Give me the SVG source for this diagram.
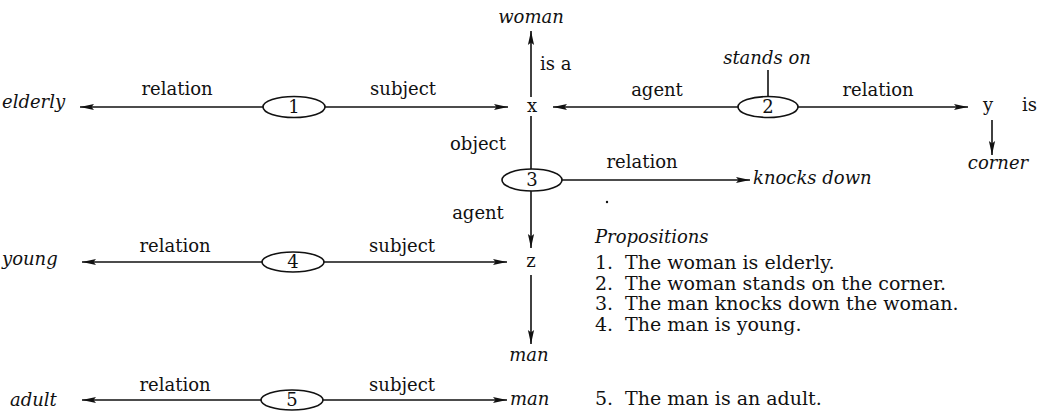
<svg xmlns="http://www.w3.org/2000/svg" width="1043" height="418" viewBox="0 0 1043 418">
  <style>
    text { font-family: "DejaVu Serif", "Liberation Serif", serif; font-size: 18px; fill: #111; }
    .it { font-style: italic; }
    .mid { text-anchor: middle; }
    .line { font-size: 19px; }
    .edge { stroke: #111; stroke-width: 1.6; fill: none; }
    .prop { fill: #fff; stroke: #111; stroke-width: 1.6; }
  </style>
  <defs>
    <marker id="arrow" viewBox="0 0 14 8" markerWidth="14" markerHeight="8" refX="14" refY="4" orient="auto" markerUnits="userSpaceOnUse">
      <path d="M0,0.9 L14,4 L0,7.1 L2.5,4 z" fill="#111"/>
    </marker>
  </defs>
  <rect width="1043" height="418" fill="#fff"/>

  <!-- connectors -->
  <g id="connectors">
    <!-- proposition 1 -->
    <line class="edge" x1="263" y1="107" x2="80" y2="107" marker-end="url(#arrow)"/>
    <line class="edge" x1="325" y1="107" x2="508" y2="107" marker-end="url(#arrow)"/>
    <!-- proposition 2 -->
    <line class="edge" x1="738" y1="107" x2="553" y2="107" marker-end="url(#arrow)"/>
    <line class="edge" x1="798" y1="107" x2="968" y2="107" marker-end="url(#arrow)"/>
    <line class="edge" x1="768" y1="70" x2="768" y2="96.5"/>
    <line class="edge" x1="992" y1="120" x2="992" y2="155" marker-end="url(#arrow)"/>
    <!-- x is a woman -->
    <line class="edge" x1="531" y1="97" x2="531" y2="31" marker-end="url(#arrow)"/>
    <!-- proposition 3 -->
    <line class="edge" x1="531" y1="116" x2="531" y2="169"/>
    <line class="edge" x1="562" y1="180" x2="750" y2="180" marker-end="url(#arrow)"/>
    <line class="edge" x1="531" y1="191" x2="531" y2="248" marker-end="url(#arrow)"/>
    <!-- z is a man -->
    <line class="edge" x1="531" y1="275" x2="531" y2="344" marker-end="url(#arrow)"/>
    <!-- proposition 4 -->
    <line class="edge" x1="262" y1="262" x2="82" y2="262" marker-end="url(#arrow)"/>
    <line class="edge" x1="324" y1="262" x2="507" y2="262" marker-end="url(#arrow)"/>
    <!-- proposition 5 -->
    <line class="edge" x1="261" y1="400" x2="82" y2="400" marker-end="url(#arrow)"/>
    <line class="edge" x1="323" y1="400" x2="507" y2="400" marker-end="url(#arrow)"/>

    <!-- link labels -->
    <text class="mid" x="177" y="95">relation</text>
    <text class="mid" x="403" y="95">subject</text>
    <text class="mid" x="657" y="96">agent</text>
    <text class="mid" x="878" y="96">relation</text>
    <text x="540" y="70">is a</text>
    <text class="mid" x="478" y="150">object</text>
    <text class="mid" x="642" y="168">relation</text>
    <text class="mid" x="478" y="219">agent</text>
    <text class="mid" x="175" y="252">relation</text>
    <text class="mid" x="402" y="252">subject</text>
    <text class="mid" x="175" y="391">relation</text>
    <text class="mid" x="402" y="391">subject</text>
  </g>

  <!-- proposition nodes -->
  <g id="p1">
    <ellipse class="prop" cx="294" cy="107" rx="31" ry="10.5"/>
    <text class="mid" x="294" y="113">1</text>
  </g>
  <g id="p2">
    <ellipse class="prop" cx="768" cy="107" rx="30" ry="10.5"/>
    <text class="mid" x="768" y="113">2</text>
  </g>
  <g id="p3">
    <ellipse class="prop" cx="532" cy="180" rx="30" ry="11"/>
    <text class="mid" x="532" y="186">3</text>
  </g>
  <g id="p4">
    <ellipse class="prop" cx="293" cy="262" rx="31" ry="10"/>
    <text class="mid" x="293" y="268">4</text>
  </g>
  <g id="p5">
    <ellipse class="prop" cx="292" cy="400" rx="31" ry="10"/>
    <text class="mid" x="292" y="406">5</text>
  </g>

  <!-- argument nodes -->
  <g id="x"><text class="mid" x="532" y="112">x</text></g>
  <g id="y"><text class="mid" x="988" y="111">y</text></g>
  <g id="y-is"><text x="1022" y="111">is</text></g>
  <g id="z"><text class="mid" x="531" y="267">z</text></g>
  <g id="woman"><text class="it mid" x="531" y="23">woman</text></g>
  <g id="stands-on"><text class="it mid" x="767" y="64">stands on</text></g>
  <g id="corner"><text class="it mid" x="998" y="169">corner</text></g>
  <g id="knocks-down"><text class="it" x="753" y="184">knocks down</text></g>
  <g id="elderly"><text class="it" x="2" y="108">elderly</text></g>
  <g id="young"><text class="it" x="2" y="265">young</text></g>
  <g id="man"><text class="it mid" x="529" y="361">man</text></g>
  <g id="adult"><text class="it" x="10" y="406">adult</text></g>
  <g id="man-2"><text class="it" x="510" y="405">man</text></g>

  <!-- stray print mark -->
  <circle cx="607" cy="202" r="1.2" fill="#111"/>

  <!-- proposition list -->
  <g id="propositions">
    <text class="it" x="595" y="243">Propositions</text>
    <text class="line" y="269"><tspan x="595">1.</tspan><tspan x="625">The woman is elderly.</tspan></text>
    <text class="line" y="290"><tspan x="595">2.</tspan><tspan x="625">The woman stands on the corner.</tspan></text>
    <text class="line" y="310"><tspan x="595">3.</tspan><tspan x="625">The man knocks down the woman.</tspan></text>
    <text class="line" y="331"><tspan x="595">4.</tspan><tspan x="625">The man is young.</tspan></text>
    <text class="line" y="405"><tspan x="595">5.</tspan><tspan x="625">The man is an adult.</tspan></text>
  </g>
</svg>
